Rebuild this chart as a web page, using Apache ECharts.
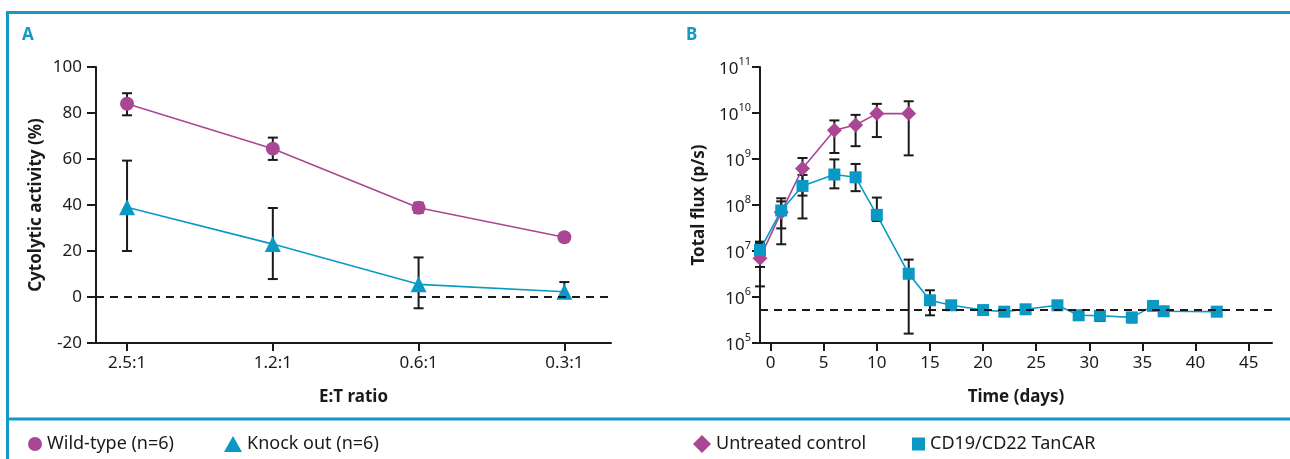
<!DOCTYPE html>
<html>
<head>
<meta charset="utf-8">
<script src="https://cdn.jsdelivr.net/npm/echarts@6/dist/echarts.min.js"></script>
<style>
  html, body { margin: 0; padding: 0; background: #fff; }
  #chart { width: 1290px; height: 459px; }
</style>
</head>
<body>
<div id="chart"></div>
<script>
// panel A: cytolytic activity vs E:T ratio
const etLabels = ['2.5:1', '1.2:1', '0.6:1', '0.3:1'];
const wtMean = [84, 64.5, 38.8, 26];
const wtLow = [79, 59.6, 36.6, 25.2];
const wtHigh = [88.6, 69.3, 41, 26.8];
const koMean = [39, 23, 5.5, 2.3];
const koLow = [20, 7.8, -4.9, 0];
const koHigh = [59.3, 38.7, 17.2, 6.5];

// panel B: total flux over time
const untDays = [-1, 1, 3, 6, 8, 10, 13];
const untFlux = [7e6, 7e7, 6.2e8, 4.2e9, 5.5e9, 9.7e9, 9.7e9];
const untLow = [1.7e6, 1.4e7, 1.6e8, 1.35e9, 1.9e9, 3e9, 1.2e9];
const untHigh = [1.5e7, 1.4e8, 1.05e9, 6.9e9, 9.1e9, 1.58e10, 1.8e10];
const carDays = [-1, 1, 3, 6, 8, 10, 13, 15, 17, 20, 22, 24, 27, 29, 31, 34, 36, 37, 42];
const carFlux = [1.05e7, 7.6e7, 2.6e8, 4.6e8, 4e8, 6.1e7, 3.2e6, 8.5e5, 6.6e5, 5.2e5, 4.8e5, 5.4e5, 6.6e5, 4e5, 3.9e5, 3.6e5, 6.4e5, 4.9e5, 4.8e5];
const carLow = [4.5e6, 3.1e7, 5.1e7, 2.3e8, 2e8, 4.5e7, 1.6e5, 4e5, null, null, null, null, null, null, 3e5, 2.8e5, null, null, null];
const carHigh = [1.6e7, 1.2e8, 4.5e8, 9.8e8, 7.8e8, 1.45e8, 6.5e6, 1.4e6, null, null, null, null, null, null, 4.2e5, 3.9e5, null, null, null];
const timeTicks = [0, 5, 10, 15, 20, 25, 30, 35, 40, 45];
const thresholdFlux = 5.2e5;

const purple = '#a94794';
const teal = '#0a99c4';
const frame = '#1499c4';
const ink = '#1a1a1a';
const font = 'Noto Sans';

const chart = echarts.init(document.getElementById('chart'));

function errData(xs, lo, hi) {
  const out = [];
  xs.forEach((x, i) => {
    if (lo[i] != null && hi[i] != null) out.push([x, lo[i], hi[i]]);
  });
  return out;
}

function errSeries(data, xi, yi) {
  return {
    type: 'custom',
    xAxisIndex: xi,
    yAxisIndex: yi,
    z: 1,
    silent: true,
    data: data,
    renderItem: (params, api) => {
      const top = api.coord([api.value(0), api.value(2)]);
      const bot = api.coord([api.value(0), api.value(1)]);
      const w = 5;
      const st = { stroke: ink, lineWidth: 2 };
      return {
        type: 'group',
        children: [
          { type: 'line', shape: { x1: top[0], y1: top[1], x2: bot[0], y2: bot[1] }, style: st },
          { type: 'line', shape: { x1: top[0] - w, y1: top[1], x2: top[0] + w, y2: top[1] }, style: st },
          { type: 'line', shape: { x1: bot[0] - w, y1: bot[1], x2: bot[0] + w, y2: bot[1] }, style: st }
        ]
      };
    }
  };
}

const dashed = (v) => ({
  silent: true,
  symbol: 'none',
  label: { show: false },
  lineStyle: { color: ink, type: [8, 6], width: 2 },
  data: [{ yAxis: v }]
});

const axisText = { color: ink, fontSize: 17, fontFamily: font };
const nameText = { color: ink, fontSize: 17, fontWeight: 'bold', fontFamily: font };

function legendItem(name, icon, color, left, w, h) {
  return {
    left: left, top: 430, itemWidth: w, itemHeight: h,
    textStyle: { color: ink, fontSize: 18, fontFamily: font },
    data: [{ name: name, icon: icon, itemStyle: { color: color } }]
  };
}

chart.setOption({
  animation: false,
  textStyle: { fontFamily: font },
  graphic: [
    { type: 'line', shape: { x1: 6, y1: 12.5, x2: 1290, y2: 12.5 }, style: { stroke: frame, lineWidth: 3 } },
    { type: 'line', shape: { x1: 7.5, y1: 11, x2: 7.5, y2: 459 }, style: { stroke: frame, lineWidth: 3 } },
    { type: 'line', shape: { x1: 6, y1: 419, x2: 1290, y2: 419 }, style: { stroke: frame, lineWidth: 3 } },
    { type: 'text', left: 22, top: 27, style: { text: 'A', fill: frame, font: 'bold 17px "Noto Sans"' } },
    { type: 'text', left: 686, top: 27, style: { text: 'B', fill: frame, font: 'bold 17px "Noto Sans"' } }
  ],
  legend: [
    legendItem('Wild-type (n=6)', 'circle', purple, 23, 14, 14),
    legendItem('Knock out (n=6)', 'triangle', teal, 219, 18, 16),
    legendItem('Untreated control', 'diamond', purple, 688, 18, 18),
    legendItem('CD19/CD22 TanCAR', 'rect', teal, 907, 13, 13)
  ],
  grid: [
    { left: 96, right: 679, top: 67, bottom: 116 },
    { left: 760, right: 18, top: 67, bottom: 116 }
  ],
  xAxis: [
    {
      gridIndex: 0, type: 'value', min: -0.213, max: 3.32,
      name: 'E:T ratio', nameLocation: 'middle', nameGap: 46, nameTextStyle: nameText,
      splitLine: { show: false },
      axisLine: { onZero: false, lineStyle: { color: ink, width: 2 } },
      axisTick: { length: 8, lineStyle: { color: ink, width: 2 }, customValues: [0, 1, 2, 3] },
      axisLabel: Object.assign({ margin: 12, customValues: [0, 1, 2, 3], formatter: (v) => etLabels[Math.round(v)] }, axisText)
    },
    {
      gridIndex: 1, type: 'value', min: -1, max: 47.2,
      name: 'Time (days)', nameLocation: 'middle', nameGap: 46, nameTextStyle: nameText,
      splitLine: { show: false },
      axisLine: { onZero: false, lineStyle: { color: ink, width: 2 } },
      axisTick: { length: 8, lineStyle: { color: ink, width: 2 }, customValues: timeTicks },
      axisLabel: Object.assign({ margin: 12, customValues: timeTicks }, axisText)
    }
  ],
  yAxis: [
    {
      gridIndex: 0, type: 'value', min: -20, max: 100, interval: 20,
      name: 'Cytolytic activity (%)', nameLocation: 'middle', nameGap: 51, nameTextStyle: nameText,
      splitLine: { show: false },
      axisLine: { show: true, onZero: false, lineStyle: { color: ink, width: 2 } },
      axisTick: { show: true, length: 9, lineStyle: { color: ink, width: 2 } },
      axisLabel: Object.assign({ margin: 14 }, axisText)
    },
    {
      gridIndex: 1, type: 'log', logBase: 10, min: 1e5, max: 1e11, interval: 1,
      name: 'Total flux (p/s)', nameLocation: 'middle', nameGap: 52, nameTextStyle: nameText,
      splitLine: { show: false },
      axisLine: { show: true, onZero: false, lineStyle: { color: ink, width: 2 } },
      axisTick: { show: true, length: 8, lineStyle: { color: ink, width: 2 } },
      axisLabel: {
        margin: 9,
        formatter: (v) => '{b|10}{s|' + Math.round(Math.log10(v)) + '}',
        rich: {
          b: { fontSize: 17, color: ink, fontFamily: font, lineHeight: 22, verticalAlign: 'bottom' },
          s: { fontSize: 11, color: ink, fontFamily: font, lineHeight: 12, verticalAlign: 'top' }
        }
      }
    }
  ],
  series: [
    errSeries(errData([0, 1, 2, 3], wtLow, wtHigh), 0, 0),
    errSeries(errData([0, 1, 2, 3], koLow, koHigh), 0, 0),
    {
      name: 'Wild-type (n=6)', type: 'line', xAxisIndex: 0, yAxisIndex: 0, z: 3,
      data: wtMean.map((v, i) => [i, v]),
      symbol: 'circle', symbolSize: 14,
      lineStyle: { color: purple, width: 1.6 }, itemStyle: { color: purple },
      markLine: dashed(0)
    },
    {
      name: 'Knock out (n=6)', type: 'line', xAxisIndex: 0, yAxisIndex: 0, z: 3,
      data: koMean.map((v, i) => [i, v]),
      symbol: 'triangle', symbolSize: 16,
      lineStyle: { color: teal, width: 1.6 }, itemStyle: { color: teal }
    },
    errSeries(errData(untDays, untLow, untHigh), 1, 1),
    errSeries(errData(carDays, carLow, carHigh), 1, 1),
    {
      name: 'Untreated control', type: 'line', xAxisIndex: 1, yAxisIndex: 1, z: 3,
      data: untDays.map((d, i) => [d, untFlux[i]]),
      symbol: 'diamond', symbolSize: 15,
      lineStyle: { color: purple, width: 1.6 }, itemStyle: { color: purple },
      markLine: dashed(thresholdFlux)
    },
    {
      name: 'CD19/CD22 TanCAR', type: 'line', xAxisIndex: 1, yAxisIndex: 1, z: 4,
      data: carDays.map((d, i) => [d, carFlux[i]]),
      symbol: 'rect', symbolSize: 12,
      lineStyle: { color: teal, width: 1.6 }, itemStyle: { color: teal }
    }
  ]
});

window.addEventListener('resize', () => {
  chart.resize();
});
</script>
</body>
</html>
